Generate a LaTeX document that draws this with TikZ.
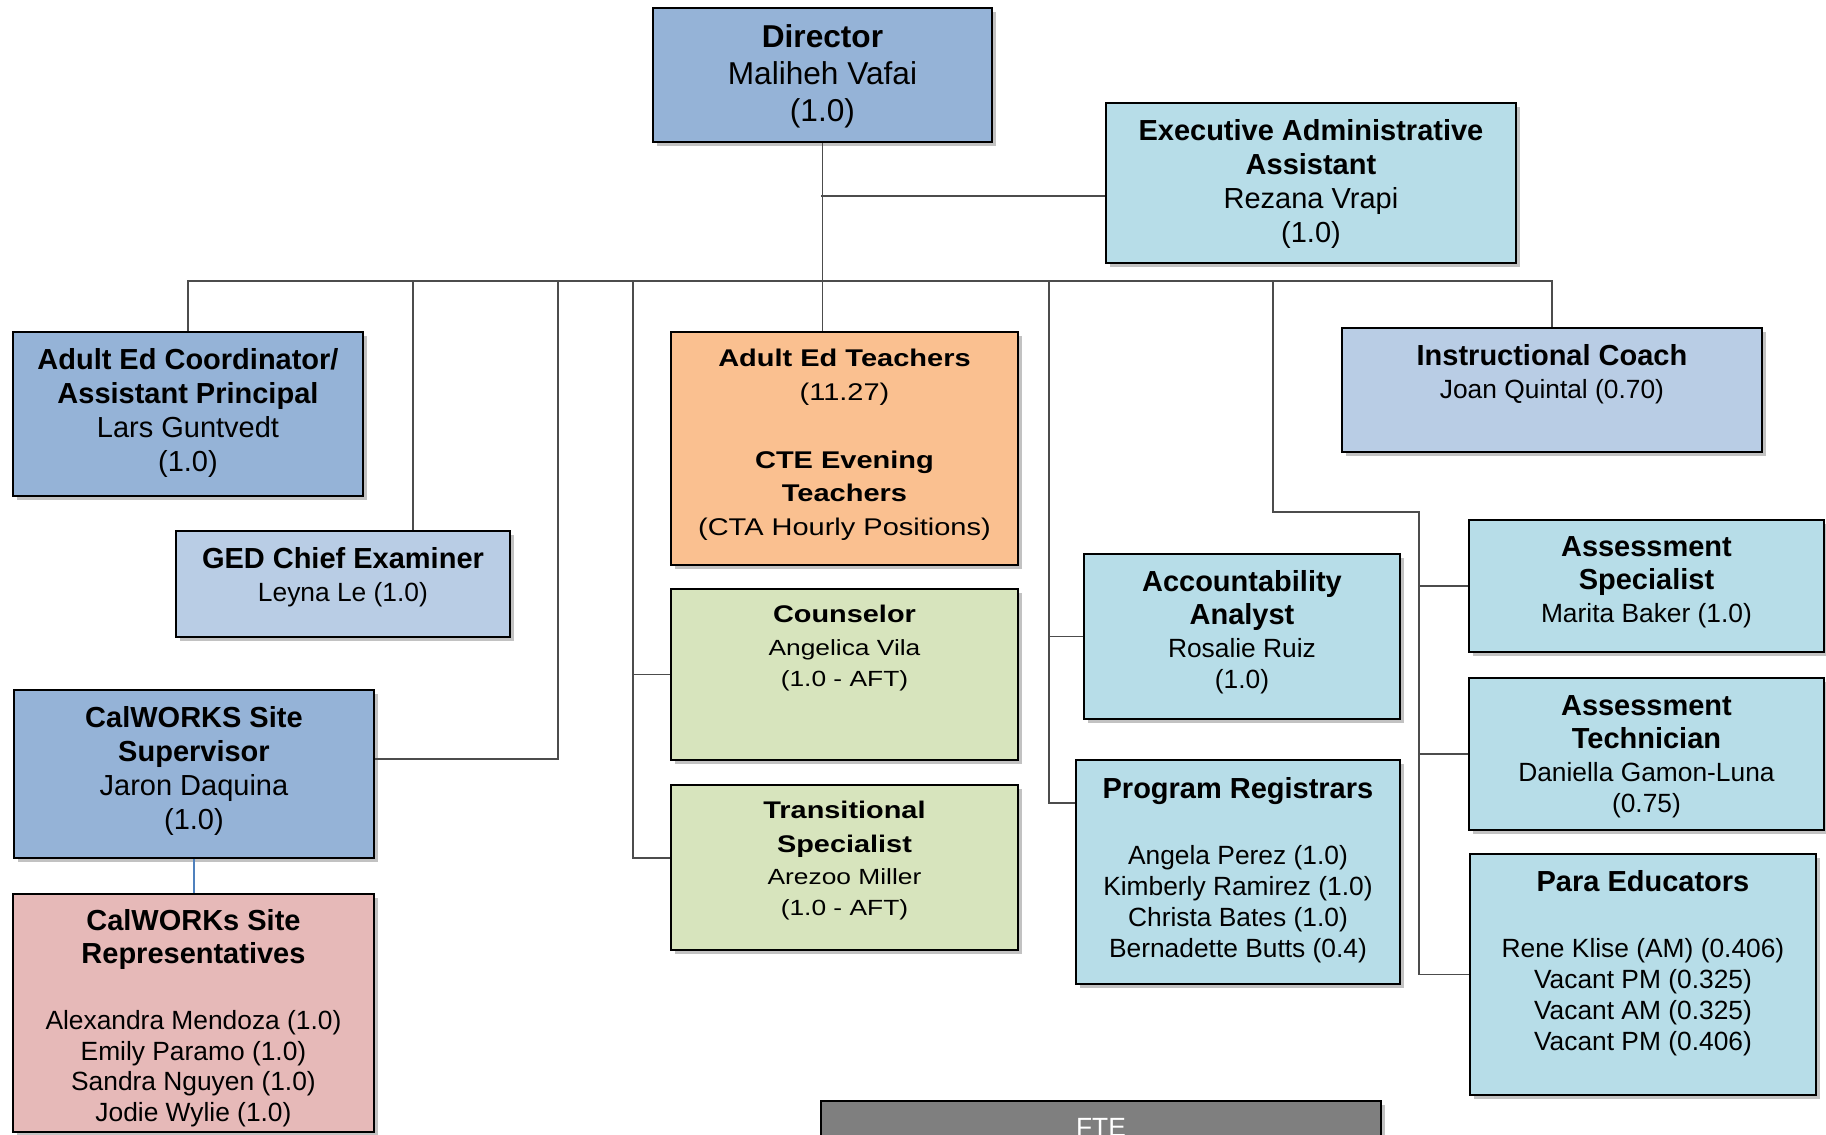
\documentclass[tikz,border=0pt]{standalone}
\usepackage{fontspec}
\setmainfont{Liberation Sans}
\newfontfamily\widesans[FakeStretch=1.2]{Liberation Sans}
\usepackage{tikz}
\usetikzlibrary{shadows}

\definecolor{dirblue}{HTML}{95B3D7}
\definecolor{paleblue}{HTML}{B9CDE5}
\definecolor{aqua}{HTML}{B7DDE8}
\definecolor{peach}{HTML}{FAC090}
\definecolor{sage}{HTML}{D7E4BD}
\definecolor{rose}{HTML}{E6B9B8}
\definecolor{ftegray}{HTML}{7F7F7F}
\definecolor{linkblue}{HTML}{4F81BD}

\newcommand{\hd}[1]{{\fontsize{16.5}{19.3}\selectfont\bfseries #1}}
\newcommand{\hdw}[1]{{\fontsize{13.7}{19.3}\selectfont\bfseries #1}}

\begin{document}
\begin{tikzpicture}[x=0.02cm, y=-0.02cm,
    box/.style={draw=black, line width=1.1pt, inner sep=0pt, anchor=north west,
      drop shadow={shadow xshift=2.5pt, shadow yshift=-2.5pt, opacity=.4, fill=black!60}},
    sz/.style 2 args={minimum width=#1*0.02cm, minimum height=#2*0.02cm},
    txtA/.style={anchor=north, align=center, inner sep=0pt, font=\fontsize{15}{17.6}\selectfont},
    txtB/.style={anchor=north, align=center, inner sep=0pt, font=\fontsize{16.5}{19.3}\selectfont},
    txtD/.style={anchor=north, align=center, inner sep=0pt, font=\fontsize{18}{21}\selectfont},
    txtW/.style={anchor=north, align=center, inner sep=0pt, font=\widesans\fontsize{12.5}{17.4}\selectfont},
    txtAW/.style={anchor=north, align=center, inner sep=0pt, font=\widesans\fontsize{13.75}{19.3}\selectfont},
    link/.style={draw=black!70, line width=0.8pt},
    blueline/.style={draw=linkblue, line width=0.8pt}]
    \useasboundingbox (0,0) rectangle (1826,1134);
    \clip (0,0) rectangle (1826,1134);

    % top of the chart
    \node[box, fill=dirblue, sz={339}{134}] (dir) at (652,7) {};
    \node[txtD] (dirT) at ([yshift=-0.34cm]dir.north) {\textbf{Director}\\ Maliheh Vafai\\ (1.0)};
    \node[box, fill=aqua, sz={410}{160}] (exec) at (1105,102) {};
    \node[txtB] (execT) at ([yshift=-0.34cm]exec.north) {\textbf{Executive Administrative}\\ \textbf{Assistant}\\ Rezana Vrapi\\ (1.0)};

    % left column
    \node[box, fill=dirblue, sz={350}{164}] (coord) at (12,331) {};
    \node[txtB] (coordT) at ([yshift=-0.34cm]coord.north) {\textbf{Adult Ed Coordinator/}\\ \textbf{Assistant Principal}\\ Lars Guntvedt\\ (1.0)};
    \node[box, fill=paleblue, sz={334}{106}] (ged) at (175,530) {};
    \node[txtA] (gedT) at ([yshift=-0.34cm]ged.north) {\hd{GED Chief Examiner}\\[1pt] Leyna Le (1.0)};
    \node[box, fill=dirblue, sz={360}{168}] (sup) at (13,689) {};
    \node[txtB] (supT) at ([yshift=-0.34cm]sup.north) {\textbf{CalWORKS Site}\\ \textbf{Supervisor}\\ Jaron Daquina\\ (1.0)};
    \node[box, fill=rose, sz={361}{238}] (reps) at (12,893) {};
    \node[txtA] (repsT) at ([yshift=-0.32cm]reps.north) {\hd{CalWORKs Site}\\[1.5pt] \hd{Representatives}\\[19.5pt]
      Alexandra Mendoza (1.0)\\ Emily Paramo (1.0)\\ Sandra Nguyen (1.0)\\ Jodie Wylie (1.0)};

    % middle column
    \node[box, fill=peach, sz={347}{233}] (aet) at (670,331) {};
    \node[txtAW] (aetT) at ([yshift=-0.36cm]aet.north) {\textbf{Adult Ed Teachers}\\ (11.27)\\[19pt]
      \textbf{CTE Evening}\\ \textbf{Teachers}\\ (CTA Hourly Positions)};
    \node[box, fill=sage, sz={347}{171}] (cou) at (670,588) {};
    \node[txtW] (couT) at ([yshift=-0.34cm]cou.north) {\hdw{Counselor}\\[1.2pt] Angelica Vila\\ (1.0 - AFT)};
    \node[box, fill=sage, sz={347}{165}] (tra) at (670,784) {};
    \node[txtW] (traT) at ([yshift=-0.34cm]tra.north) {\hdw{Transitional}\\[1.5pt] \hdw{Specialist}\\[1.2pt] Arezoo Miller\\ (1.0 - AFT)};

    % right side
    \node[box, fill=aqua, sz={316}{165}] (acc) at (1083,553) {};
    \node[txtA] (accT) at ([yshift=-0.34cm]acc.north) {\hd{Accountability}\\[1.5pt] \hd{Analyst}\\[1pt] Rosalie Ruiz\\ (1.0)};
    \node[box, fill=aqua, sz={324}{224}] (reg) at (1075,759) {};
    \node[txtA] (regT) at ([yshift=-0.36cm]reg.north) {\hd{Program Registrars}\\[20pt]
      Angela Perez (1.0)\\ Kimberly Ramirez (1.0)\\ Christa Bates (1.0)\\ Bernadette Butts (0.4)};
    \node[box, fill=paleblue, sz={420}{124}] (ins) at (1341,327) {};
    \node[txtA] (insT) at ([yshift=-0.34cm]ins.north) {\hd{Instructional Coach}\\[1pt] Joan Quintal (0.70)};
    \node[box, fill=aqua, sz={355}{132}] (asp) at (1468,519) {};
    \node[txtA] (aspT) at ([yshift=-0.34cm]asp.north) {\hd{Assessment}\\[1.5pt] \hd{Specialist}\\[1pt] Marita Baker (1.0)};
    \node[box, fill=aqua, sz={355}{152}] (ate) at (1468,677) {};
    \node[txtA] (ateT) at ([yshift=-0.36cm]ate.north) {\hd{Assessment}\\[1.5pt] \hd{Technician}\\[1pt] Daniella Gamon-Luna\\ (0.75)};
    \node[box, fill=aqua, sz={346}{241}] (par) at (1469,853) {};
    \node[txtA] (parT) at ([yshift=-0.34cm]par.north) {\hd{Para Educators}\\[20pt]
      Rene Klise (AM) (0.406)\\ Vacant PM (0.325)\\ Vacant AM (0.325)\\ Vacant PM (0.406)};

    % legend box, cut by the page
    \node[box, fill=ftegray, sz={560}{60}] (fte) at (820,1100) {};
    \node[txtA, text=white] (fteT) at ([yshift=-0.36cm]fte.north) {FTE};

    % connectors
    \coordinate (bus) at (821,281);
    \coordinate (ej) at (821,196);
    \coordinate (b1) at (413,281);
    \coordinate (b2) at (558,281);
    \coordinate (b3) at (633,281);
    \coordinate (b4) at (1049,281);
    \coordinate (b5) at (1273,281);
    \coordinate (aj) at (1419,512);

    \path[link]
        (coord.north) |- (bus) -| (ins.north)
        (dir.south) -- (dir.south |- aet.north)
        (ej) -- (ej -| exec.west)
        (b1) -- (b1 |- ged.north)
        (b2) |- ([yshift=0.3cm]sup.east)
        (b3) |- ([yshift=0.19cm]tra.west)
        (b3 |- cou.west) -- (cou.west)
        (b4) |- ([yshift=1.38cm]reg.west)
        (b4 |- acc.west) -- (acc.west)
        (b5) |- (aj) |- (par.west)
        (aj |- asp.west) -- (asp.west)
        (aj |- ate.west) -- (ate.west);
    \draw[blueline] (sup.south) -- (sup.south |- reps.north);
\end{tikzpicture}
\end{document}
